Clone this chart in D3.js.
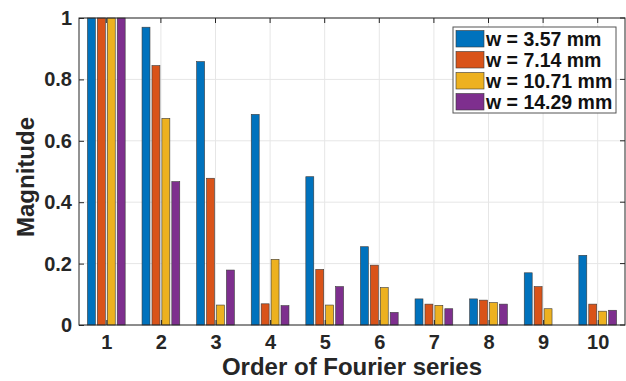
<!DOCTYPE html>
<html>
<head>
<meta charset="utf-8">
<script src="https://cdn.jsdelivr.net/npm/d3@7"></script>
<style>
  body { margin: 0; background: #fff; }
  text { font-family: "Liberation Sans", Arial, sans-serif; font-weight: bold; }
</style>
</head>
<body>
<svg id="chart" width="626" height="381"></svg>
<script>
const orders = [1, 2, 3, 4, 5, 6, 7, 8, 9, 10]
const seriesNames = ['w = 3.57 mm', 'w = 7.14 mm', 'w = 10.71 mm', 'w = 14.29 mm']
const seriesColors = ['#0072BD', '#D95319', '#EDB120', '#7E2F8E']
const w357 = [1, 0.97, 0.858, 0.686, 0.483, 0.255, 0.085, 0.085, 0.170, 0.227]
const w714 = [1, 0.845, 0.478, 0.069, 0.181, 0.195, 0.068, 0.081, 0.125, 0.068]
const w1071 = [1, 0.673, 0.065, 0.214, 0.065, 0.122, 0.064, 0.073, 0.053, 0.045]
const w1429 = [1, 0.467, 0.179, 0.063, 0.125, 0.041, 0.053, 0.068, 0, 0.048]
const yTicks = [0, 0.2, 0.4, 0.6, 0.8, 1]

const series = [w357, w714, w1071, w1429]

const margin = {left: 79, top: 18, right: 1, bottom: 56}
const width = 626 - margin.left - margin.right
const height = 381 - margin.top - margin.bottom
const axisColor = '#262626'

const svg = d3.select('#chart')
const g = svg.append('g')
	.attr('transform', `translate(${margin.left}, ${margin.top})`)

const x = d3.scaleLinear().domain([0.5, 10.5]).range([0, width])
const y = d3.scaleLinear().domain([0, 1]).range([height, 0])

// grid
g.append('g')
	.selectAll('line')
	.data(orders)
	.enter()
	.append('line')
	.attr('x1', (d) => x(d))
	.attr('x2', (d) => x(d))
	.attr('y1', 0)
	.attr('y2', height)
	.attr('stroke', '#e6e6e6')
	.attr('stroke-width', 1)
g.append('g')
	.selectAll('line')
	.data(yTicks)
	.enter()
	.append('line')
	.attr('x1', 0)
	.attr('x2', width)
	.attr('y1', (d) => y(d))
	.attr('y2', (d) => y(d))
	.attr('stroke', '#e6e6e6')
	.attr('stroke-width', 1)

// bars, MATLAB style grouping
const nSeries = series.length
const groupWidth = Math.min(0.8, nSeries / (nSeries + 1.5))
const slot = groupWidth / nSeries
const barW = x(0.5 + slot * 0.8) - x(0.5)

series.forEach((values, s) => {
	const offset = -groupWidth / 2 + slot * (s + 0.5)
	g.append('g')
		.selectAll('rect')
		.data(values)
		.enter()
		.append('rect')
		.attr('x', (d, i) => x(orders[i] + offset) - barW / 2)
		.attr('y', (d) => y(d))
		.attr('width', barW)
		.attr('height', (d) => y(0) - y(d))
		.attr('fill', seriesColors[s])
		.attr('stroke', '#3a3a3a')
		.attr('stroke-width', 0.6)
})

// axes
const xAxis = d3.axisBottom(x).tickValues(orders).tickSize(-5).tickPadding(10).tickFormat(d3.format('d'))
const yAxis = d3.axisLeft(y).tickValues(yTicks).tickSize(-5).tickPadding(7).tickFormat((d) => d === 0 || d === 1 ? String(d) : d.toFixed(1))

const gx = g.append('g')
	.attr('transform', `translate(0, ${height})`)
	.call(xAxis)
const gy = g.append('g').call(yAxis)

;[gx, gy].forEach((a) => {
	a.select('.domain').remove()
	a.selectAll('line').attr('stroke', axisColor)
	a.selectAll('text')
		.attr('fill', axisColor)
		.attr('font-size', 20)
		.style('font-family', '"Liberation Sans", Arial, sans-serif')
		.style('font-weight', 'bold')
})
gx.selectAll('text').attr('y', 24).attr('dy', 0)

// top and right ticks
g.append('g')
	.selectAll('line')
	.data(orders)
	.enter()
	.append('line')
	.attr('x1', (d) => x(d))
	.attr('x2', (d) => x(d))
	.attr('y1', 0)
	.attr('y2', 5)
	.attr('stroke', axisColor)
g.append('g')
	.selectAll('line')
	.data(yTicks)
	.enter()
	.append('line')
	.attr('x1', width)
	.attr('x2', width - 5)
	.attr('y1', (d) => y(d))
	.attr('y2', (d) => y(d))
	.attr('stroke', axisColor)

// box
g.append('rect')
	.attr('x', 0)
	.attr('y', 0)
	.attr('width', width)
	.attr('height', height)
	.attr('fill', 'none')
	.attr('stroke', axisColor)
	.attr('stroke-width', 1)

// axis titles
svg.append('text')
	.attr('x', margin.left + width / 2)
	.attr('y', 375)
	.attr('text-anchor', 'middle')
	.attr('font-size', 24)
	.attr('fill', axisColor)
	.text('Order of Fourier series')

svg.append('text')
	.attr('transform', 'translate(34, 177) rotate(-90)')
	.attr('text-anchor', 'middle')
	.attr('font-size', 24)
	.attr('fill', axisColor)
	.text('Magnitude')

// legend
const legend = svg.append('g').attr('transform', 'translate(453, 27)')
legend.append('rect')
	.attr('width', 163)
	.attr('height', 86)
	.attr('fill', '#fff')
	.attr('stroke', '#555')
	.attr('stroke-width', 1)
const items = legend.selectAll('.item')
	.data(seriesNames)
	.enter()
	.append('g')
	.attr('class', 'item')
	.attr('transform', (d, i) => `translate(3, ${3.5 + i * 21})`)
items.append('rect')
	.attr('width', 28)
	.attr('height', 16.5)
	.attr('fill', (d, i) => seriesColors[i])
	.attr('stroke', '#3a3a3a')
	.attr('stroke-width', 0.6)
items.append('text')
	.attr('x', 30)
	.attr('y', 8.5)
	.attr('dy', '0.36em')
	.attr('font-size', 19.5)
	.attr('fill', '#111')
	.text((d) => d)
</script>
</body>
</html>
